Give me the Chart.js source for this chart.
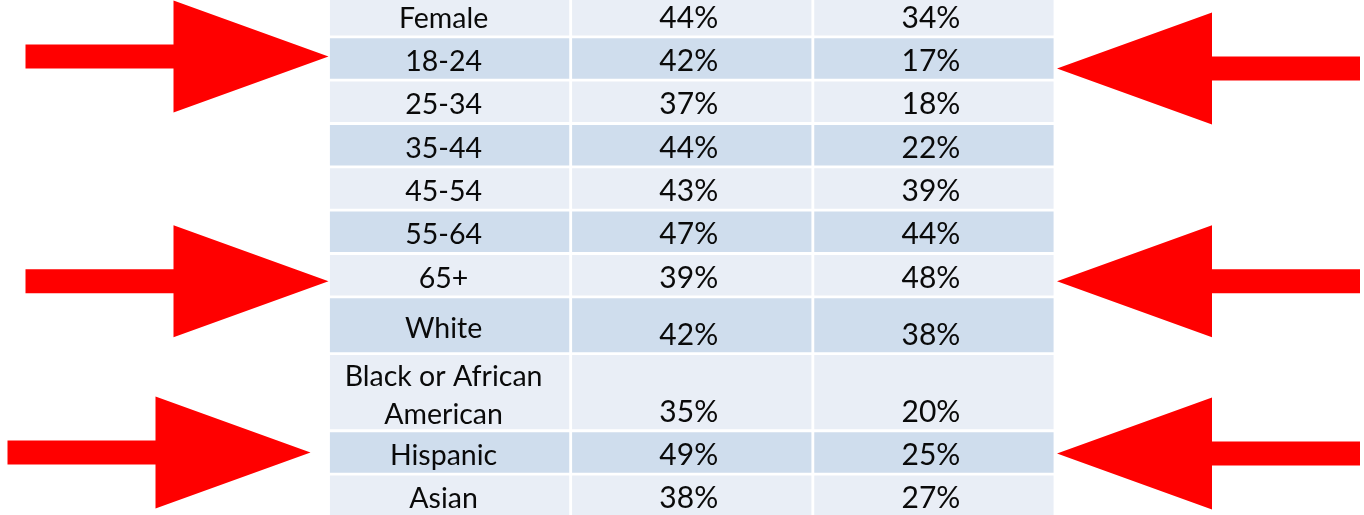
<!DOCTYPE html>
<html>
<head>
<meta charset="utf-8">
<script src="https://cdn.jsdelivr.net/npm/chart.js@4.4.1/dist/chart.umd.min.js"></script>
<style>
  html, body { margin: 0; padding: 0; background: #ffffff; }
  #wrap { width: 1364px; height: 515px; position: relative; }
</style>
</head>
<body>
<div id="wrap"><canvas id="c"></canvas></div>
<script>
// ---- data ----
const categories = ['Female', '18-24', '25-34', '35-44', '45-54', '55-64', '65+', 'White', 'Black or African American', 'Hispanic', 'Asian'];
const col2Values = [44, 42, 37, 44, 43, 47, 39, 42, 35, 49, 38];
const col3Values = [34, 17, 18, 22, 39, 44, 48, 38, 20, 25, 27];
const columns = ['Group', 'Column 2', 'Column 3'];
const highlightedRows = ['18-24', '65+', 'Hispanic'];

// ---- layout / style (not data) ----
const rowSpans = [1, 1, 1, 1, 1, 1, 1, 1.31, 1.78, 1, 1];
const LIGHT = 'rgb(233,238,246)';
const DARK = 'rgb(207,221,237)';
const TEXT = '#0a0a0a';
const LABEL_FONT = '28.5px Lato';
const VALUE_FONT = '30px Lato';
const arrowNudges = {
  '18-24': { left: { dy: -2, dx: 0 }, right: { dy: 10, dx: 0 } },
  '65+': { left: { dy: 6, dx: 0 }, right: { dy: 6, dx: 0 } },
  'Hispanic': { left: { dy: 0, dx: -18 }, right: { dy: 1, dx: 0 } }
};

const datasets = categories.map((c, i) => ({
  label: c,
  data: columns.map(() => rowSpans[i]),
  backgroundColor: i % 2 === 0 ? LIGHT : DARK,
  borderColor: '#ffffff',
  borderWidth: 1.75,
  borderSkipped: false,
  barPercentage: 1,
  categoryPercentage: 1,
  stack: 'table'
}));

function wrapText(ctx, text, maxW) {
  const words = text.split(' ');
  const lines = [];
  let cur = '';
  words.forEach(w => {
    const t = cur ? cur + ' ' + w : w;
    if (ctx.measureText(t).width > maxW && cur) { lines.push(cur); cur = w; }
    else cur = t;
  });
  if (cur) lines.push(cur);
  return lines;
}

const cellText = {
  id: 'cellText',
  afterDatasetsDraw(chart) {
    const ctx = chart.ctx;
    ctx.save();
    ctx.fillStyle = TEXT;
    ctx.textAlign = 'center';
    ctx.textBaseline = 'alphabetic';
    chart.data.datasets.forEach((ds, i) => {
      const meta = chart.getDatasetMeta(i);
      meta.data.forEach((el, j) => {
        const top = Math.min(el.y, el.base);
        const bottom = Math.max(el.y, el.base);
        const center = (top + bottom) / 2;
        if (j === 0) {
          ctx.font = LABEL_FONT;
          const lines = wrapText(ctx, categories[i], el.width - 16);
          const lh = 38;
          lines.forEach((ln, k) => {
            const by = center + 12.5 + (k - (lines.length - 1) / 2) * lh;
            ctx.fillText(ln, el.x - 6, by);
          });
        } else {
          ctx.font = VALUE_FONT;
          const v = j === 1 ? col2Values[i] : col3Values[i];
          ctx.fillText(v + '%', el.x - 3, bottom - 9);
        }
      });
    });
    ctx.restore();
  }
};

const arrows = {
  id: 'arrows',
  afterDraw(chart) {
    const ctx = chart.ctx;
    const area = chart.chartArea;
    const LEN = 303, HEAD = 155, HH = 56, SH = 12;
    ctx.save();
    ctx.fillStyle = '#ff0000';
    highlightedRows.forEach(r => {
      const i = categories.indexOf(r);
      const meta = chart.getDatasetMeta(i);
      const el = meta.data[0];
      const cy = (el.y + el.base) / 2;
      ['left', 'right'].forEach(side => {
        const n = arrowNudges[r][side];
        const y = cy + n.dy;
        const dir = side === 'left' ? 1 : -1;
        const tipX = (side === 'left' ? area.left : area.right + 2) + n.dx;
        const tailX = tipX - dir * LEN;
        const baseX = tipX - dir * HEAD;
        ctx.beginPath();
        ctx.moveTo(tipX, y);
        ctx.lineTo(baseX, y - HH);
        ctx.lineTo(baseX, y - SH);
        ctx.lineTo(tailX, y - SH);
        ctx.lineTo(tailX, y + SH);
        ctx.lineTo(baseX, y + SH);
        ctx.lineTo(baseX, y + HH);
        ctx.closePath();
        ctx.fill();
      });
    });
    ctx.restore();
  }
};

new Chart(document.getElementById('c'), {
  type: 'bar',
  data: { labels: columns, datasets },
  options: {
    responsive: true,
    maintainAspectRatio: false,
    animation: false,
    layout: { padding: { left: 328.5, right: 309, top: 0, bottom: 0 } },
    plugins: { legend: { display: false }, tooltip: { enabled: false }, title: { display: false } },
    scales: {
      x: { type: 'category', stacked: true, display: false, offset: true, grid: { display: false } },
      y: { type: 'linear', stacked: true, reverse: true, min: 0.15, max: 12.035, display: false, grid: { display: false } }
    }
  },
  plugins: [cellText, arrows]
});
</script>
</body>
</html>
